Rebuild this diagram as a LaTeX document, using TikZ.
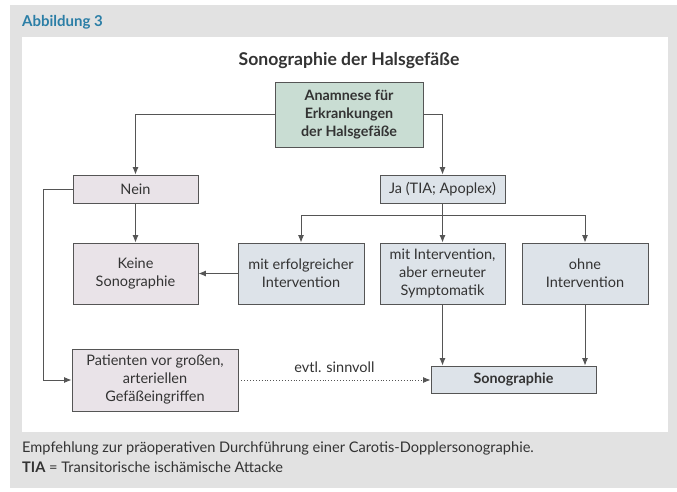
\documentclass[tikz,border=0pt]{standalone}
\usepackage{fontspec}
\setmainfont{Lato}
\usetikzlibrary{arrows.meta}
\definecolor{panelgray}{HTML}{E2E2E2}
\definecolor{headblue}{HTML}{2B7EA6}
\definecolor{inkgray}{HTML}{333333}
\definecolor{linegray}{HTML}{555555}
\definecolor{greenfill}{HTML}{C9DDD3}
\definecolor{rosefill}{HTML}{E9E3E8}
\definecolor{bluefill}{HTML}{DDE3E9}
\tikzset{
  box/.style={draw=linegray, line width=0.9pt, align=center, text=inkgray,
    inner sep=0pt, font=\fontsize{14.5}{18}\selectfont},
  boldtext/.style={font=\bfseries\fontsize{14.3}{18}\selectfont},
  rosebox/.style={box, fill=rosefill},
  bluebox/.style={box, fill=bluefill},
  greenbox/.style={box, fill=greenfill, boldtext},
  conn/.style={draw=linegray, line width=0.9pt},
  arr/.style={conn, -{Latex[length=7.5pt,width=6pt]}},
  plain/.style={inner sep=0pt, text=inkgray},
}
\begin{document}
\begin{tikzpicture}[x=1pt,y=-1pt]
\useasboundingbox (0,0) rectangle (677,492);
% panels
\fill[panelgray] (10,5) rectangle (677,488);
\fill[white] (22,37) rectangle (668,432);
\node[plain, anchor=base west, text=headblue, font=\bfseries\fontsize{15}{17}\selectfont] (head) at (22,27) {Abbildung 3};
\node[plain, anchor=base, font=\bfseries\fontsize{17.6}{20}\selectfont] (title) at (349,66) {Sonographie der Halsgefäße};

% boxes
\node[greenbox, minimum width=148pt, minimum height=65pt] (ana) at (349,114.5) {Anamnese für\\Erkrankungen\\der Halsgefäße};
\node[rosebox, minimum width=125pt, minimum height=28pt] (nein) at (135.5,189) {Nein};
\node[bluebox, minimum width=125pt, minimum height=28pt] (ja) at (442.5,189) {Ja (TIA; Apoplex)};
\node[rosebox, minimum width=125pt, minimum height=61pt] (keine) at (135.5,273.5) {Keine\\Sonographie};
\node[bluebox, minimum width=126pt, minimum height=61pt] (erfolg) at (301,273.5) {mit erfolgreicher\\Intervention};
\node[bluebox, minimum width=125pt, minimum height=61pt] (erneut) at (442.5,273.5) {mit Intervention,\\aber erneuter\\Symptomatik};
\node[bluebox, minimum width=126pt, minimum height=61pt] (ohne) at (585,273.5) {ohne\\Intervention};
\node[rosebox, minimum width=166pt, minimum height=62pt] (pat) at (155,380) {Patienten vor großen,\\arteriellen\\Gefäßeingriffen};
\node[bluebox, boldtext, minimum width=165pt, minimum height=27pt] (sono) at (513.5,379.5) {Sonographie};

% connectors
\coordinate (split) at (442.5,215);
\draw[arr] (ana.west) -| (nein.north);
\draw[arr] (ana.east) -| (ja.north);
\draw[arr] (nein.south) -- (keine.north);
\draw[conn] (ja.south) -- (split);
\draw[arr] (split) -| (erfolg.north);
\draw[arr] (split) -| (ohne.north);
\draw[arr] (split) -- (erneut.north);
\draw[arr] (erfolg.west) -- (keine.east);
\draw[arr] (nein.west) -- ++(-29,0) |- (pat.west);
\draw[arr] (erneut.south) -- (erneut.south |- sono.north);
\draw[arr] (ohne.south) -- (ohne.south |- sono.north);
\draw[arr, dotted] (pat.east) -- node[plain, above=7pt, font=\fontsize{14.5}{17}\selectfont] (evtl) {evtl. sinnvoll} (pat.east -| sono.west);

% caption
\node[plain, anchor=base west, font=\fontsize{14.6}{17}\selectfont] (cap1) at (22,452) {Empfehlung zur präoperativen Durchführung einer Carotis-Dopplersonographie.};
\node[plain, anchor=base west, font=\fontsize{14.6}{17}\selectfont] (cap2) at (22,472) {\textbf{TIA} = Transitorische ischämische Attacke};
\end{tikzpicture}
\end{document}
